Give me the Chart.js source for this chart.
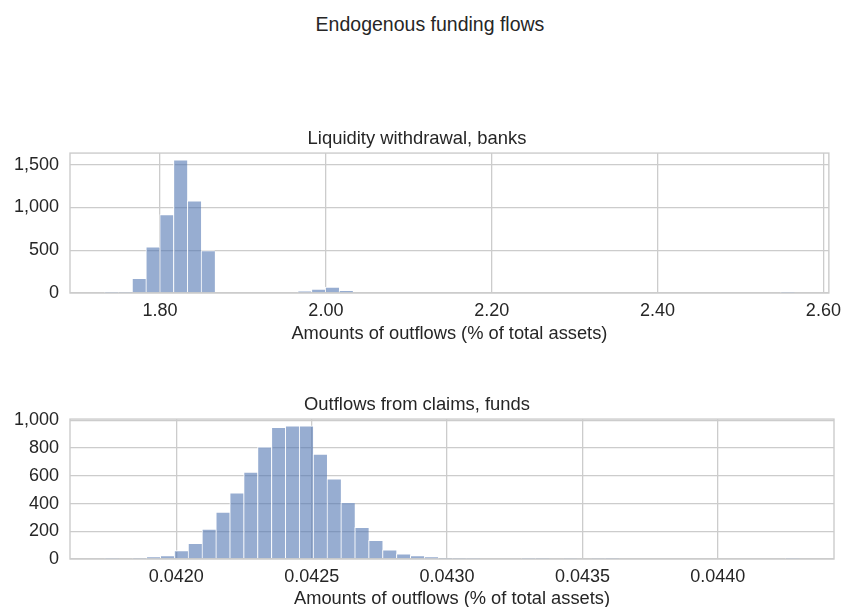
<!DOCTYPE html>
<html>
<head>
<meta charset="utf-8">
<script src="https://cdn.jsdelivr.net/npm/chart.js@4/dist/chart.umd.min.js"></script>
<style>
  body{margin:0;background:#fff;width:848px;height:607px;position:relative;overflow:hidden;font-family:"Liberation Sans",Arial,sans-serif;}
  #suptitle{position:absolute;top:13px;left:0;width:860px;text-align:center;font-size:19.5px;color:#262626;}
  .box{position:absolute;left:0;width:848px;}
</style>
</head>
<body>
<div id="suptitle">Endogenous funding flows</div>
<div class="box" style="top:124px;height:221px"><canvas id="banks"></canvas></div>
<div class="box" style="top:390px;height:220px"><canvas id="funds"></canvas></div>
<script>
// histogram bins: first edge and width, 50 bins each
const bankBinStart=1.733, bankBinWidth=0.01664;
const bankCounts=[1,4,170,540,917,1557,1077,495,0,0,
  0,0,0,0,20,47,70,30,0,0,
  0,0,0,0,0,0,0,0,0,0,
  0,0,0,0,0,0,0,0,0,0,
  0,0,0,0,0,0,0,0,0,1];
const bankXTicks=[1.80,2.00,2.20,2.40,2.60];
const bankYTicks=[0,500,1000,1500];

const fundBinStart=0.0417357, fundBinWidth=0.0000513;
const fundCounts=[1,0,2,17,24,60,113,216,339,478,
  627,809,949,961,961,757,579,408,228,134,
  67,38,24,15,6,2,1,0,0,0,
  1,2,0,3,0,3,2,0,0,0,
  0,0,0,0,0,0,0,0,0,1];
const fundXTicks=[0.0420,0.0425,0.0430,0.0435,0.0440];
const fundYTicks=[0,200,400,600,800,1000];

const ink='#262626', gridCol='#cccccc';
const barFill='rgba(76,114,176,0.58)';
const fam='"Liberation Sans", Arial, sans-serif';

const frame={
  id:'frame',
  afterDatasetsDraw(chart){
    const a=chart.chartArea, ctx=chart.ctx;
    ctx.save();
    ctx.strokeStyle=gridCol;
    ctx.lineWidth=1.4;
    ctx.strokeRect(a.left,a.top,a.right-a.left,a.bottom-a.top);
    ctx.restore();
  }
};

function drawHist(id,title,start,width,counts,xTicks,yTicks,digits,xH){
  const pts=counts.map((c,i)=>({x:start+width*(i+0.5),y:c}));
  const span=width*counts.length;
  new Chart(document.getElementById(id),{
    type:'bar',
    data:{datasets:[{
      data:pts,
      backgroundColor:barFill,
      borderColor:'rgba(255,255,255,0.9)',
      borderWidth:{left:1,right:0,top:1,bottom:0},
      borderSkipped:false,
      barPercentage:1,
      categoryPercentage:1
    }]},
    options:{
      responsive:true,
      maintainAspectRatio:false,
      animation:false,
      layout:{padding:{left:0,right:14,top:0,bottom:0}},
      plugins:{
        legend:{display:false},
        tooltip:{enabled:false},
        title:{display:true,text:title,color:ink,
          font:{family:fam,size:18.4,weight:'normal'},
          padding:{top:4,bottom:3}}
      },
      scales:{
        x:{
          type:'linear',
          offset:false,
          min:start-0.05*span,
          max:start+1.05*span,
          afterBuildTicks:s=>{s.ticks=xTicks.map(v=>({value:v}));},
          afterFit:s=>{s.height=xH;},
          grid:{color:gridCol,lineWidth:1.3,drawTicks:false,offset:false},
          border:{display:false},
          ticks:{color:ink,padding:7,maxRotation:0,autoSkip:false,
            font:{family:fam,size:18},
            callback:v=>v.toFixed(digits)},
          title:{display:true,text:'Amounts of outflows (% of total assets)',color:ink,
            font:{family:fam,size:18.3},
            padding:{top:0,bottom:0}}
        },
        y:{
          min:0,
          max:Math.max(...counts)*1.05,
          afterBuildTicks:s=>{s.ticks=yTicks.map(v=>({value:v}));},
          afterFit:s=>{s.width=70;},
          grid:{color:gridCol,lineWidth:1.3,drawTicks:false},
          border:{display:false},
          ticks:{color:ink,padding:11,
            font:{family:fam,size:18},
            callback:v=>v.toLocaleString('en-US')}
        }
      }
    },
    plugins:[frame]
  });
}

drawHist('banks','Liquidity withdrawal, banks',bankBinStart,bankBinWidth,bankCounts,bankXTicks,bankYTicks,2,52);
drawHist('funds','Outflows from claims, funds',fundBinStart,fundBinWidth,fundCounts,fundXTicks,fundYTicks,4,51);
</script>
</body>
</html>
